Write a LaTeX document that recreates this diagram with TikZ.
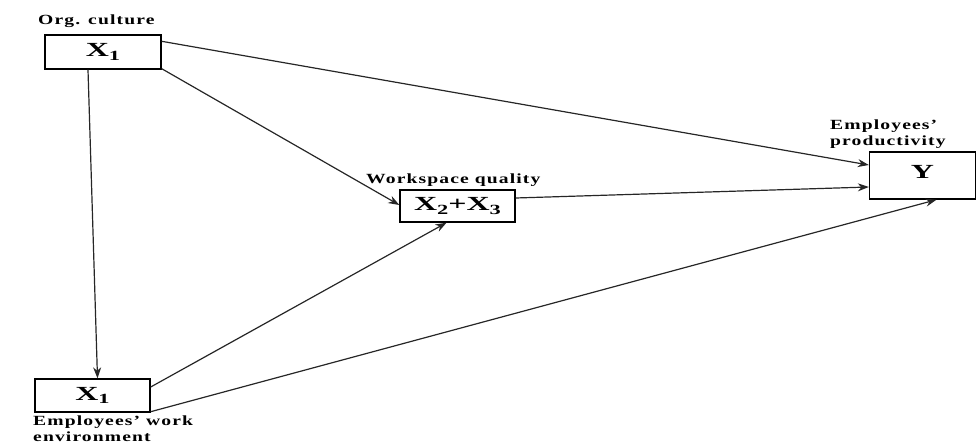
\documentclass[tikz,border=0pt]{standalone}
\usepackage{fontspec}
\setmainfont{Liberation Serif}
\newfontfamily\lblfont[LetterSpace=8,FakeStretch=1.4]{Liberation Serif}
\newfontfamily\boxfont[FakeStretch=1.6]{Liberation Serif}
\newcommand{\sbx}[1]{\raisebox{-3.5pt}{\fontsize{14}{14}\selectfont #1}}
\usetikzlibrary{arrows.meta}
\begin{document}
\begin{tikzpicture}[x=1pt,y=1pt,
  boxnode/.style={draw,line width=1.4pt,fill=white,inner sep=0pt,font=\boxfont\bfseries\fontsize{20}{20}\selectfont},
  lbl/.style={font=\lblfont\bfseries\fontsize{14}{16}\selectfont,inner sep=0pt,align=left},
  conn/.style={line width=1.2pt,draw=black!85,-{Stealth[length=11pt,width=8pt]}}]
\useasboundingbox (0,0) rectangle (976,-446);
\node[boxnode,minimum width=116,minimum height=34] (x1a) at (103,-52) {X\sbx{1}};
\node[boxnode,minimum width=115,minimum height=33] (x1b) at (92.5,-395.5) {X\sbx{1}};
\node[boxnode,minimum width=115,minimum height=32] (x23) at (457.5,-206) {X\sbx{2}+X\sbx{3}};
\node[boxnode,minimum width=106,minimum height=47] (y) at (922.5,-175.5) {\raisebox{8pt}{Y}};
\node[lbl,anchor=west] (l1) at (38,-21) {Org. culture};
\node[lbl,anchor=west] (l2) at (366,-180) {Workspace quality};
\node[lbl,anchor=south west] (l3) at (830,-149) {Employees’\\productivity};
\node[lbl,anchor=north west] (l4) at (33,-416) {Employees’ work\\environment};
\draw[conn] ([yshift=-7]x1a.north east) -- ([yshift=10.5]y.west);
\draw[conn] ([yshift=1]x1a.south east) -- ([yshift=1]x23.west);
\draw[conn] ([xshift=-15]x1a.south) -- ([xshift=5]x1b.north);
\draw[conn] ([yshift=8.5]x1b.east) -- ([xshift=-11]x23.south);
\draw[conn] ([yshift=1]x1b.south east) -- ([xshift=14]y.south);
\draw[conn] ([yshift=8]x23.east) -- ([yshift=-11.5]y.west);
\end{tikzpicture}
\end{document}
